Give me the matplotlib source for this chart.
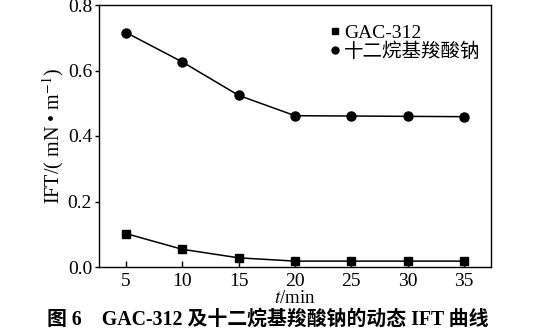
import matplotlib.pyplot as plt
import numpy as np

plt.rcParams['font.family'] = ['Liberation Serif', 'Noto Sans CJK SC']
plt.rcParams['mathtext.fontset'] = 'stix'

# 时间 (min) 与界面张力 (mN/m)
t_min = [5, 10, 15, 20, 25, 30, 35]
ift_gac = [0.102, 0.054, 0.028, 0.018, 0.018, 0.018, 0.018]
ift_sodium = [0.716, 0.626, 0.524, 0.462, 0.461, 0.460, 0.459]
series_names = ['GAC-312', '十二烷基羧酸钠']
x_ticks = [5, 10, 15, 20, 25, 30, 35]
y_ticks = [0.0, 0.2, 0.4, 0.6, 0.8]

fig = plt.figure(figsize=(5.34, 3.33), dpi=100)
ax = fig.add_axes([99/534, 1-267/333, 392/534, 262/333])

ax.plot(t_min, ift_gac, '-s', color='black', lw=1.1, ms=6, label=series_names[0])
ax.plot(t_min, ift_sodium, '-o', color='black', lw=1.1, ms=6.5, label=series_names[1])

ax.set_xlim(2.6, 37.4)
ax.set_ylim(0, 0.8)
ax.set_xticks(x_ticks)
ax.set_yticks(y_ticks)
ax.set_yticklabels(['%.1f' % v for v in y_ticks])
ax.tick_params(axis='both', labelsize=14)
ax.tick_params(axis='y', direction='out', length=3, width=1, pad=2)
ax.tick_params(axis='x', direction='in', length=4, width=1, pad=4)
for s in ax.spines.values():
    s.set_linewidth(1)

ax.set_xlabel('$t$/min', fontsize=13.5, labelpad=0.5)
ax.set_ylabel('IFT/( mN • m$^{-1}$)', fontsize=14.5, labelpad=1)

leg = ax.legend(loc='upper left', bbox_to_anchor=(0.57, 0.955), frameon=False,
                fontsize=14, handlelength=0.5, handletextpad=0.2,
                labelspacing=0.0, borderaxespad=0)
for h in leg.legend_handles:
    h.set_linestyle('')
    h.set_markersize(5)

fig.text(0.088, 0.04, '图 6    GAC-312 及十二烷基羧酸钠的动态 IFT 曲线',
         fontsize=14.3, fontweight='bold', ha='left', va='center')

fig.savefig('out.png', dpi=100)
